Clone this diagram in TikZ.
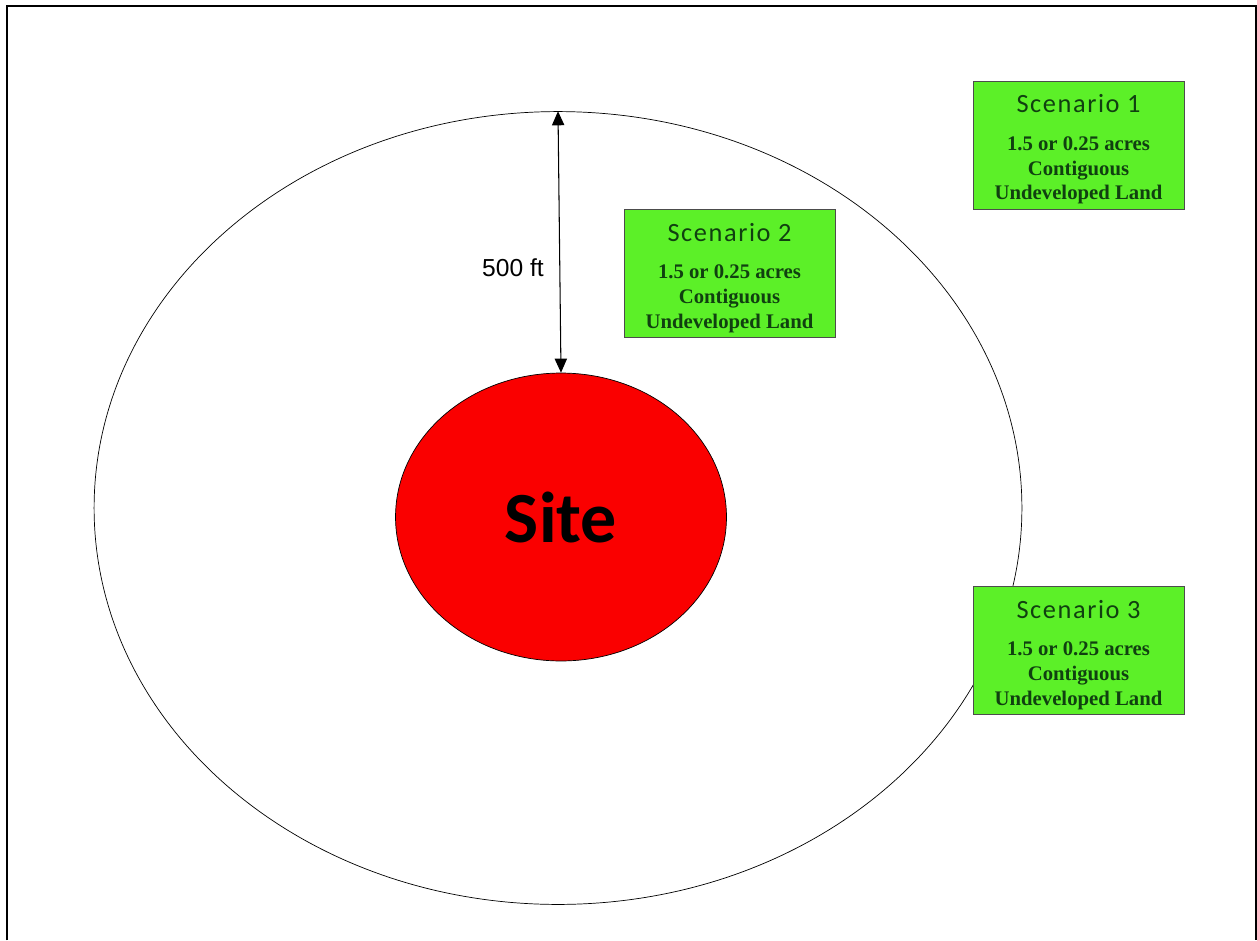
\documentclass[tikz,border=0pt]{standalone}
\usepackage{fontspec}
\setmainfont{Liberation Serif}
\newfontfamily\calibri{Carlito}
\newfontfamily\calibriwide[LetterSpace=6]{Carlito}
\newfontfamily\arial{Liberation Sans}
\usetikzlibrary{arrows.meta,shapes.geometric,positioning}
\definecolor{boxgreen}{RGB}{92,240,40}
\definecolor{textgreen}{RGB}{16,64,16}
\definecolor{sitered}{RGB}{250,0,0}
\tikzset{
  scenario/.style={draw=black!70,fill=boxgreen,text=textgreen,align=center,
    minimum width=4.22cm,minimum height=2.56cm,inner sep=0pt,font=\bfseries\fontsize{11.8}{14.2}\selectfont},
}
\newcommand{\scentitle}[1]{{\calibriwide\mdseries\fontsize{15}{14}\selectfont\rule{0pt}{15.5pt}Scenario #1}\\[7pt]}

\begin{document}
\begin{tikzpicture}[x=0.02cm,y=-0.02cm]
		\useasboundingbox (0,0) rectangle (1257,940);
		% frame
		\draw[line width=0.8pt] (7,940) -- (7,6) -- (1256,6) -- (1256,940);
		\draw[line width=1.2pt] (7,940) -- (7,6);

		\begin{scope}[every node/.style={ellipse,draw,inner sep=0pt}]
			\node[minimum width=18.56cm,minimum height=15.86cm,thin] (zone) at (558,508) {};
			\node[fill=sitered,minimum width=6.62cm,minimum height=5.76cm,thin,
				font=\calibri\bfseries\fontsize{41}{41}\selectfont] (site) at (561,517) {Site};
		\end{scope}

		\begin{scope}[>={Triangle[length=8pt,width=7pt]}]
			\draw[<->,semithick] (zone.north) -- (site.north);
		\end{scope}
		\node[font=\arial\fontsize{14}{14}\selectfont] (dist) at (513,268) {500 ft};

		\begin{scope}[every node/.style={scenario}]
			\node (s1) at (1078.5,145) {\scentitle{1}1.5 or 0.25 acres\\Contiguous\\Undeveloped Land};
			\node (s2) at (729.5,273.5) {\scentitle{2}1.5 or 0.25 acres\\Contiguous\\Undeveloped Land};
			\node (s3) at (1078.5,650.5) {\scentitle{3}1.5 or 0.25 acres\\Contiguous\\Undeveloped Land};
		\end{scope}
	\end{tikzpicture}
\end{document}
